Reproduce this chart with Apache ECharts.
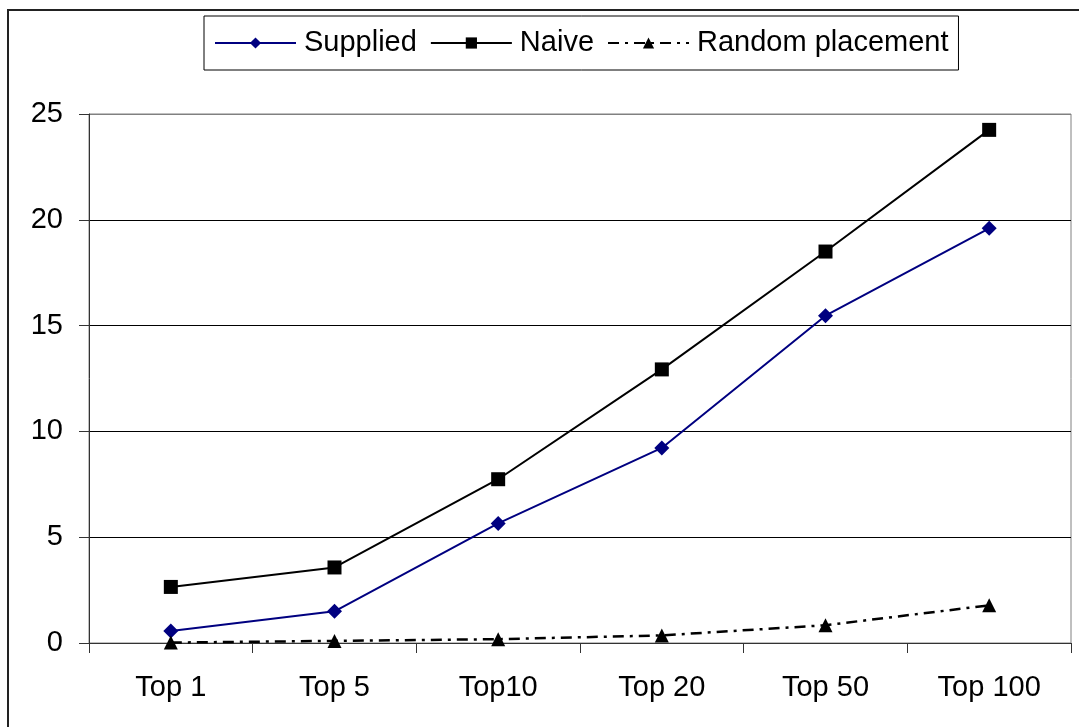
<!DOCTYPE html>
<html>
<head>
<meta charset="utf-8">
<script src="https://cdn.jsdelivr.net/npm/echarts@6/dist/echarts.min.js"></script>
<style>
html,body{margin:0;padding:0;background:#fff;}
#chart{width:1079px;height:727px;}
</style>
</head>
<body>
<div id="chart"></div>
<script>
var categories = ['Top 1', 'Top 5', 'Top10', 'Top 20', 'Top 50', 'Top 100'];
var supplied = [0.57, 1.5, 5.65, 9.22, 15.47, 19.6];
var naive = [2.65, 3.57, 7.74, 12.93, 18.5, 24.25];
var randomPlacement = [0.02, 0.1, 0.18, 0.36, 0.84, 1.78];
var yTicks = [0, 5, 10, 15, 20, 25];

var FONT = 'Liberation Sans, Arial, sans-serif';
var chart = echarts.init(document.getElementById('chart'), null, {renderer: 'canvas'});
chart.setOption({
  animation: false,
  backgroundColor: '#fff',
  graphic: [{
    type: 'rect',
    shape: {x: 8, y: 10, width: 1200, height: 900},
    style: {fill: 'none', stroke: '#222', lineWidth: 2},
    silent: true, z: -10
  }],
  legend: {
    left: 204, top: 16,
    padding: [10, 10, 10, 10],
    borderColor: '#000', borderWidth: 1,
    itemWidth: 81, itemHeight: 14, itemGap: 13,
    textStyle: {fontFamily: FONT, fontSize: 29, color: '#000', lineHeight: 32, padding: [2, 0, 0, 3]},
    data: ['Supplied', 'Naive', 'Random placement']
  },
  grid: {left: 89, top: 114, right: 8, bottom: 84, show: true, borderColor: '#808080', borderWidth: 1},
  xAxis: {
    type: 'category',
    data: categories,
    boundaryGap: true,
    axisLine: {lineStyle: {color: '#333', width: 1}},
    axisTick: {show: true, length: 10, alignWithLabel: false, lineStyle: {color: '#333'}},
    axisLabel: {fontFamily: FONT, fontSize: 29, color: '#000', margin: 30}
  },
  yAxis: {
    type: 'value',
    min: yTicks[0], max: yTicks[yTicks.length - 1], interval: 5,
    axisLine: {show: true, lineStyle: {color: '#333', width: 1}},
    axisTick: {show: true, length: 10, lineStyle: {color: '#333'}},
    axisLabel: {fontFamily: FONT, fontSize: 29, color: '#000', margin: 26},
    splitLine: {show: true, lineStyle: {color: ['#000', '#000', '#000', '#000', '#000', '#808080'], width: 1}}
  },
  series: [
    {
      name: 'Supplied', type: 'line', data: supplied,
      symbol: 'diamond', symbolSize: 15,
      lineStyle: {color: '#000080', width: 2},
      itemStyle: {color: '#000080'}
    },
    {
      name: 'Naive', type: 'line', data: naive,
      symbol: 'rect', symbolSize: 14,
      lineStyle: {color: '#000', width: 2},
      itemStyle: {color: '#000'}
    },
    {
      name: 'Random placement', type: 'line', data: randomPlacement,
      symbol: 'triangle', symbolSize: 14,
      lineStyle: {color: '#000', width: 2.5, type: [11, 6, 3, 6]},
      itemStyle: {color: '#000'}
    }
  ]
});
</script>
</body>
</html>
